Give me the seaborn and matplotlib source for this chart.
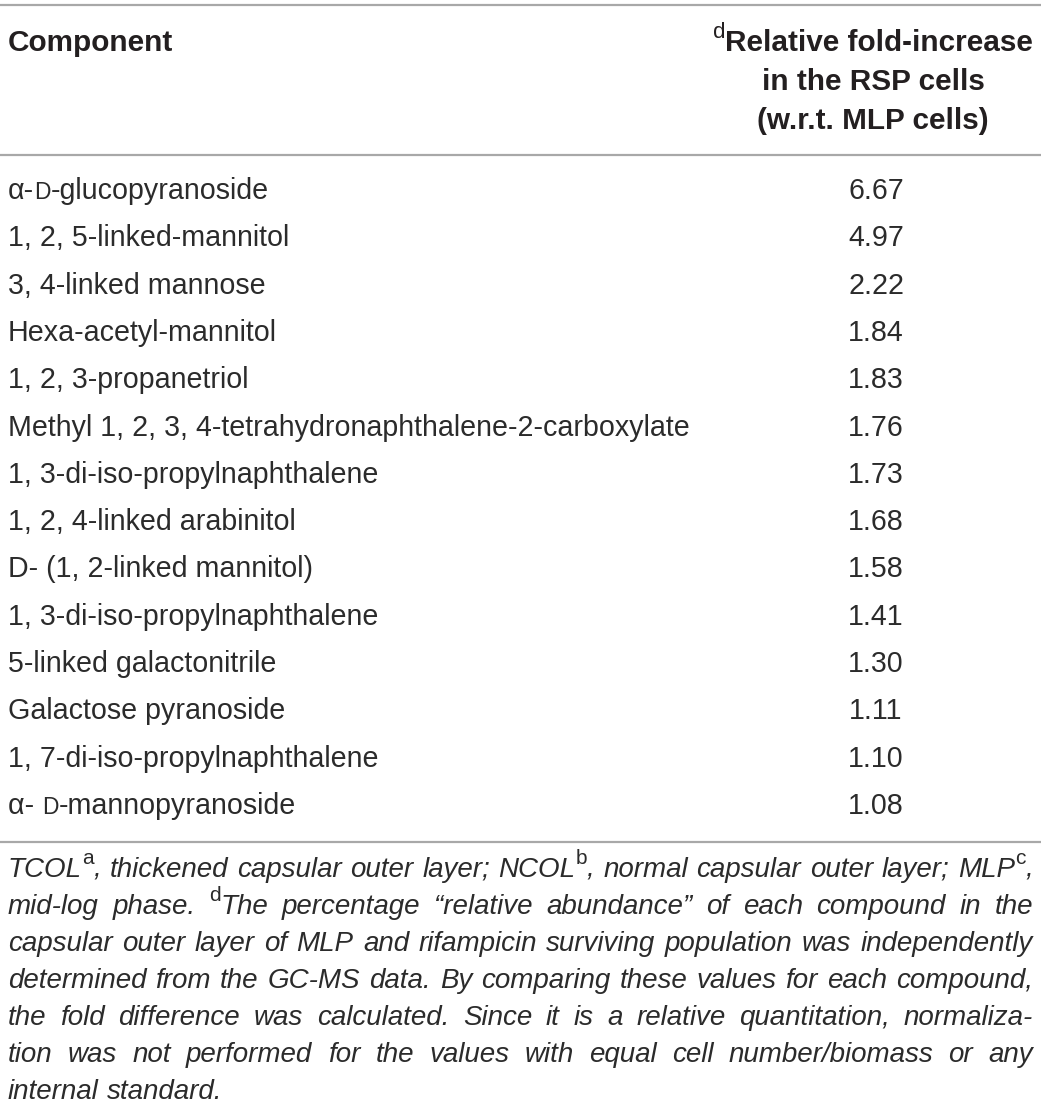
import matplotlib
matplotlib.use("Agg")
import matplotlib.pyplot as plt
import seaborn as sns

# ---------------- data ----------------
components = [
    "α-{D}-glucopyranoside",
    "1, 2, 5-linked-mannitol",
    "3, 4-linked mannose",
    "Hexa-acetyl-mannitol",
    "1, 2, 3-propanetriol",
    "Methyl 1, 2, 3, 4-tetrahydronaphthalene-2-carboxylate",
    "1, 3-di-iso-propylnaphthalene",
    "1, 2, 4-linked arabinitol",
    "D- (1, 2-linked mannitol)",
    "1, 3-di-iso-propylnaphthalene",
    "5-linked galactonitrile",
    "Galactose pyranoside",
    "1, 7-di-iso-propylnaphthalene",
    "α- {D}-mannopyranoside",
]
fold_increase = [6.67, 4.97, 2.22, 1.84, 1.83, 1.76, 1.73, 1.68, 1.58, 1.41, 1.30, 1.11, 1.10, 1.08]
header_left = "Component"
header_right = ["^dRelative fold-increase", "in the RSP cells", "(w.r.t. MLP cells)"]
footnote_lines = [
    "TCOL^a, thickened capsular outer layer; NCOL^b, normal capsular outer layer; MLP^c,",
    "mid-log phase. ^dThe percentage “relative abundance” of each compound in the",
    "capsular outer layer of MLP and rifampicin surviving population was independently",
    "determined from the GC-MS data. By comparing these values for each compound,",
    "the fold difference was calculated. Since it is a relative quantitation, normaliza-",
    "tion was not performed for the values with equal cell number/biomass or any",
    "internal standard.",
]

# ---------------- setup ----------------
sns.set_theme(style="white")
plt.rcParams['font.family'] = ['Liberation Sans', 'DejaVu Sans']
TXT = "#231f20"
ROWTXT = "#2b2b2b"
LINE = "#a8a8a8"
W, H = 1041, 1115
fig = plt.figure(figsize=(W / 100, H / 100), dpi=100)
ax = fig.add_axes([0, 0, 1, 1])
ax.set_xlim(0, W)
ax.set_ylim(H, 0)
ax.axis('off')
renderer = fig.canvas.get_renderer()


def parse(s):
    runs, buf, i = [], "", 0
    while i < len(s):
        c = s[i]
        if c == '^':
            if buf:
                runs.append((buf, 'n')); buf = ""
            runs.append((s[i + 1], 'sup')); i += 2
        elif c == '{':
            j = s.index('}', i)
            if buf:
                runs.append((buf, 'n')); buf = ""
            runs.append((s[i + 1:j], 'sc')); i = j + 1
        else:
            buf += c; i += 1
    if buf:
        runs.append((buf, 'n'))
    return runs


def twidth(text, size, style='normal', weight='normal'):
    def w(s):
        t = ax.text(0, 0, s, fontsize=size, style=style, weight=weight)
        bb = t.get_window_extent(renderer)
        t.remove()
        return bb.width
    return w("x" + text + "x") - w("xx")


def run_props(kind, size, style, weight):
    if kind == 'sup':
        return size * 0.75, size * 100 / 72 * 0.45, 'normal', 'normal'
    if kind == 'sc':
        return size * 0.8, 0.0, style, weight
    return size, 0.0, style, weight


def runs_width(runs, size, style, weight):
    tot = 0
    for text, kind in runs:
        s, _, st, wg = run_props(kind, size, style, weight)
        tot += twidth(text, s, st, wg)
    return tot


def draw_runs(runs, x, y, size, style='normal', weight='normal', color=TXT):
    for text, kind in runs:
        s, rise, st, wg = run_props(kind, size, style, weight)
        ax.text(x, y - rise, text, fontsize=s, style=st, weight=wg,
                color=color, ha='left', va='baseline')
        x += twidth(text, s, st, wg)
    return x


# font sizes fitted to reference text widths
row_pt = 18 * 680 / twidth(components[5], 18)
head_pt = 18 * 232 / twidth("(w.r.t. MLP cells)", 18, weight='bold')
L, R = 8, 1033
space18 = twidth(" ", 18, 'italic')
nat = []
for line in footnote_lines[:-1]:
    words = [parse(wd) for wd in line.split(' ')]
    nat.append(sum(runs_width(wd, 18, 'italic', 'normal') for wd in words)
               + space18 * (len(words) - 1))
foot_pt = 18 * (R - L) * 0.995 / max(nat)

# rules
for yy in (5, 155, 842):
    ax.axhline(yy, color=LINE, lw=1.6)

# header
draw_runs(parse(header_left), 8, 51, head_pt, weight='bold')
hy = [51, 90, 129]
for k, line in enumerate(header_right):
    r = parse(line)
    w = runs_width(r, head_pt, 'normal', 'bold')
    x0 = 1033 - w if k == 0 else 873 - w / 2
    draw_runs(r, x0, hy[k], head_pt, weight='bold')

# rows
y0, step = 199, 47.3
for i, (comp, val) in enumerate(zip(components, fold_increase)):
    y = y0 + i * step
    draw_runs(parse(comp), 8, y, row_pt, color=ROWTXT)
    ax.text(876, y, f"{val:.2f}", fontsize=row_pt, color=ROWTXT, ha='center', va='baseline')

# footnote (justified)
fy0, fstep = 877, 37.0
for k, line in enumerate(footnote_lines):
    y = fy0 + k * fstep
    words = [parse(wd) for wd in line.split(' ')]
    widths = [runs_width(wd, foot_pt, 'italic', 'normal') for wd in words]
    if k < len(footnote_lines) - 1:
        gap = (R - L - sum(widths)) / (len(words) - 1)
    else:
        gap = twidth(" ", foot_pt, 'italic')
    x = L
    for wd, wdw in zip(words, widths):
        draw_runs(wd, x, y, foot_pt, style='italic', color=ROWTXT)
        x += wdw + gap

fig.savefig("out.png", dpi=100, facecolor="white")
